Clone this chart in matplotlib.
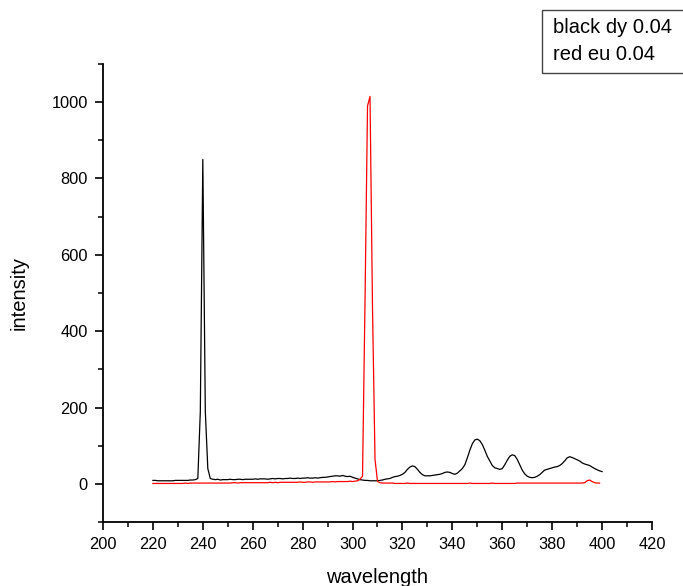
import numpy as np
import matplotlib
matplotlib.use('Agg')
import matplotlib.pyplot as plt
from matplotlib.ticker import MultipleLocator
from matplotlib.patches import Rectangle

plt.rcParams['font.family'] = ['Liberation Sans', 'DejaVu Sans']

# wavelength grid of the scan (1 nm steps)
wl_dy = np.arange(220, 401)
wl_eu = np.arange(220, 400)

# black: dy 0.04
dy = [9, 9, 8, 8, 8, 8, 8, 8, 8, 9,
      9, 9, 9, 9, 9, 10, 10, 11,
      14, 190, 850, 190, 40, 14,
      12, 11, 12, 10, 11, 11,
      11, 12, 11, 11, 12, 12, 11, 12, 12, 12,
      12, 13, 12, 13, 13, 13, 12, 13, 14, 13,
      14, 14, 13, 14, 14, 15, 14, 14, 15, 14,
      15, 15, 16, 15, 15, 16, 15, 16, 17, 17,
      18, 19, 20, 21, 21, 20, 22, 20, 19, 20,
      17, 15, 13, 11, 10, 9, 9, 8, 8, 8,
      8, 9, 10, 12, 13, 14, 17, 19, 20, 22,
      25, 30, 38, 44, 47, 45, 38, 30, 24, 21,
      21, 21, 22, 23, 24, 25, 27, 30, 31, 30,
      27, 25, 28, 34, 40, 50, 68, 88, 105, 115,
      117, 113, 103, 88, 72, 60, 48, 42, 40, 38,
      40, 50, 62, 72, 76, 74, 64, 50, 36, 26,
      20, 17, 16, 17, 20, 24, 30, 36, 38, 40,
      42, 44, 45, 48, 53, 60, 68, 71, 69, 66,
      63, 60, 55, 52, 50, 48, 44, 40, 37, 34,
      32]

# red: eu 0.04
eu = [1, 1, 1, 1, 1, 1, 1, 1, 1, 1,
      1, 1, 1, 2, 1, 2, 2, 2, 2, 2,
      2, 2, 2, 2, 2, 2, 2, 2, 2, 2,
      2, 2, 3, 3, 2, 3, 3, 3, 3, 3,
      3, 3, 3, 3, 3, 3, 3, 4, 3, 4,
      3, 4, 4, 4, 4, 4, 4, 4, 4, 5,
      4, 4, 5, 5, 4, 5, 5, 5, 5, 5,
      5, 5, 6, 5, 6, 6, 6, 6, 6, 7,
      6, 7, 8, 12, 20, 480, 990, 1015, 460, 65,
      6, 3, 2, 2, 2, 2, 2, 1, 1, 1,
      1, 1, 2, 1, 1, 1, 1, 1, 1, 1,
      1, 1, 1, 1, 1, 1, 1, 1, 1, 1,
      1, 1, 1, 1, 1, 1, 1, 2, 1, 1,
      1, 1, 1, 1, 1, 1, 2, 1, 1, 1,
      1, 1, 1, 1, 1, 1, 2, 2, 2, 2,
      2, 2, 2, 2, 2, 2, 2, 2, 2, 2,
      2, 2, 2, 2, 2, 2, 2, 2, 2, 2,
      2, 2, 2, 3, 8, 10, 6, 3, 2, 2]

legend_lines = ['black dy 0.04', 'red eu 0.04']

fig = plt.figure(figsize=(6.83, 5.86), dpi=100)
ax = fig.add_axes([103/683, 64/586, 549/683, 458/586])

ax.plot(wl_dy, dy, color='black', lw=0.9)
ax.plot(wl_eu, eu, color='#ff0000', lw=0.9)

ax.set_xlim(200, 420)
ax.xaxis.set_major_locator(MultipleLocator(20))
ax.xaxis.set_minor_locator(MultipleLocator(10))
ax.yaxis.set_minor_locator(MultipleLocator(100))
ax.set_yticks([0, 200, 400, 600, 800, 1000])
ax.set_ylim(-100, 1100)

for s in ['top', 'right']:
    ax.spines[s].set_visible(False)
for s in ['left', 'bottom']:
    ax.spines[s].set_linewidth(1.3)

ax.tick_params(which='major', direction='out', length=6, width=1.2, labelsize=11.8, pad=5)
ax.tick_params(which='minor', direction='out', length=3.5, width=1.1)

ax.set_xlabel('wavelength', fontsize=14.5)
ax.set_ylabel('intensity', fontsize=14.5)
ax.xaxis.set_label_coords(0.5, -0.1)
ax.yaxis.set_label_coords(-0.135, 0.5)

# text box in the upper right corner
fig.patches.append(Rectangle((542/683, 1 - 73/586), 150/683, 63/586,
                             transform=fig.transFigure, fill=False,
                             edgecolor='#444444', lw=1.0))
fig.text(553/683, 1 - 33/586, legend_lines[0], fontsize=14.5, va='baseline')
fig.text(553/683, 1 - 60/586, legend_lines[1], fontsize=14.5, va='baseline')

fig.savefig('out.png', dpi=100)
